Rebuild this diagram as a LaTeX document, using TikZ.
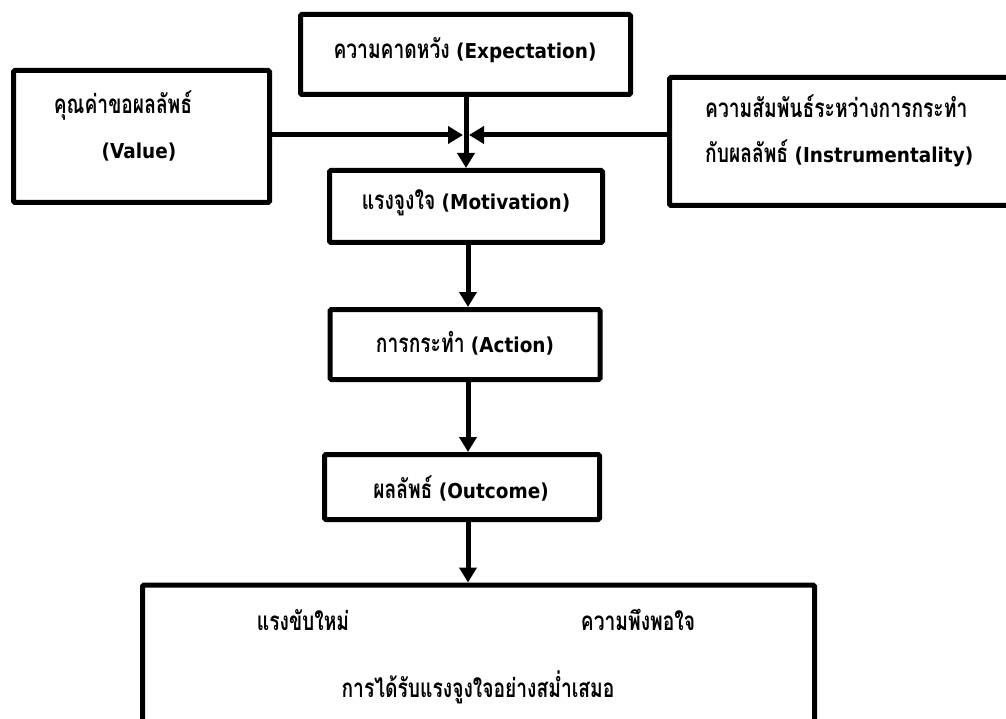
\documentclass[tikz,border=0pt]{standalone}
\usepackage{fontspec}
\setmainfont[FakeStretch=0.9]{DejaVu Sans}
\newfontfamily\thaifont[Script=Thai,FakeStretch=0.74]{Loma}
\newcommand\tht[1]{{\thaifont\bfseries\fontsize{26}{30}\selectfont #1}}
\usetikzlibrary{arrows.meta}
\begin{document}
\begin{tikzpicture}[x=1pt,y=-1pt,
  box/.style={draw=black,line width=5pt,rounded corners=1.5pt,inner sep=0pt,fill=none},
  lbl/.style={inner sep=0pt,font=\fontsize{20.5}{24}\selectfont\bfseries},
  arr/.style={line width=5pt,-{Triangle[length=15pt,width=17pt]}}]
\useasboundingbox (0,0) rectangle (1006,719);
\begin{scope}
\clip (0,0) rectangle (1006,719);
% boxes
\node[box,minimum width=330pt,minimum height=80pt] (exp) at (465.5,54.5) {};
\node[box,minimum width=256pt,minimum height=132pt] (val) at (141.5,136.5) {};
\node[box,minimum width=340pt,minimum height=128pt] (inst) at (839.5,141.5) {};
\node[box,minimum width=273pt,minimum height=72pt] (mot) at (466,206.5) {};
\node[box,minimum width=270pt,minimum height=70pt] (act) at (465,344.5) {};
\node[box,minimum width=275pt,minimum height=65pt] (out) at (462,487) {};
\node[box,minimum width=672pt,minimum height=150pt] (fin) at (478.5,660) {};
% texts
\node[lbl] (texp) at (465,50) {\tht{ความคาดหวัง} (Expectation)};
\node[lbl] (tval1) at (123,105) {\tht{คุณค่าขอผลลัพธ์}};
\node[lbl] (tval2) at (139,152) {(Value)};
\node[lbl,anchor=west] (tins1) at (705,106) {\tht{ความสัมพันธ์ระหว่างการกระทำ}};
\node[lbl,anchor=west] (tins2) at (705,153) {\tht{กับผลลัพธ์} (Instrumentality)};
\node[lbl] (tmot) at (466,203) {\tht{แรงจูงใจ} (Motivation)};
\node[lbl] (tact) at (465,343) {\tht{การกระทำ} (Action)};
\node[lbl] (tout) at (461,488) {\tht{ผลลัพธ์} (Outcome)};
\node[lbl] (tdrv) at (303,620) {\tht{แรงขับใหม่}};
\node[lbl] (tsat) at (638,620) {\tht{ความพึงพอใจ}};
\node[lbl] (tcon) at (478,687) {\tht{การได้รับแรงจูงใจอย่างสม่ำเสมอ}};
\end{scope}
% connectors
\coordinate (meet) at (466,135);
\draw[arr] (exp.south -| meet) -- (mot.north -| meet);
\draw[arr] (val.east |- meet) -- ([xshift=-3pt]meet);
\draw[arr] (inst.west |- meet) -- ([xshift=3pt]meet);
\coordinate (m1) at (468,246);
\draw[arr] (mot.south -| m1) -- (act.north -| m1);
\draw[arr] (act.south -| m1) -- (out.north -| m1);
\draw[arr] (out.south -| m1) -- (fin.north -| m1);
\end{tikzpicture}
\end{document}
